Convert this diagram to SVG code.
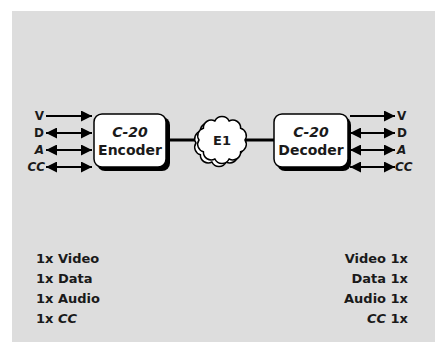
<svg xmlns="http://www.w3.org/2000/svg" width="435" height="342" viewBox="0 0 435 342">
<style>
.lbl{font-family:"DejaVu Sans",sans-serif;font-weight:bold;fill:#1a1a1a}
.box{fill:#fff;stroke:#000;stroke-width:1.5}
.sh{fill:#000}
.ar{stroke:#000;stroke-width:2;fill:none}
.link{stroke:#000;stroke-width:3;fill:none}
</style>
<defs>
<marker id="ah" viewBox="0 0 10 10" refX="10" refY="5" markerWidth="11" markerHeight="11" markerUnits="userSpaceOnUse" orient="auto-start-reverse">
<path d="M0,0 L10,5 L0,10 Z" fill="#000"/>
</marker>
</defs>
<rect x="12" y="11" width="423" height="331" fill="#dddddd"/>
<g id="connectors">
<line class="link" x1="166" y1="140" x2="200" y2="140"/>
<line class="link" x1="244" y1="140" x2="274" y2="140"/>
<line class="ar" x1="46" y1="116" x2="92" y2="116" marker-end="url(#ah)"/>
<line class="ar" x1="46" y1="133" x2="92" y2="133" marker-start="url(#ah)" marker-end="url(#ah)"/>
<line class="ar" x1="46" y1="150" x2="92" y2="150" marker-start="url(#ah)" marker-end="url(#ah)"/>
<line class="ar" x1="46" y1="167" x2="92" y2="167" marker-start="url(#ah)" marker-end="url(#ah)"/>
<line class="ar" x1="350" y1="116" x2="395" y2="116" marker-end="url(#ah)"/>
<line class="ar" x1="350" y1="133" x2="395" y2="133" marker-start="url(#ah)" marker-end="url(#ah)"/>
<line class="ar" x1="350" y1="150" x2="395" y2="150" marker-start="url(#ah)" marker-end="url(#ah)"/>
<line class="ar" x1="350" y1="167" x2="395" y2="167" marker-start="url(#ah)" marker-end="url(#ah)"/>
</g>
<g id="encoder">
<rect class="sh" x="97" y="117" width="73" height="54" rx="8"/>
<rect class="box" x="94" y="114" width="72" height="53" rx="8"/>
<text class="lbl" x="130" y="137" font-size="14" text-anchor="middle" font-style="italic">C-20</text>
<text class="lbl" x="130" y="155" font-size="14" text-anchor="middle">Encoder</text>
</g>
<g id="decoder">
<rect class="sh" x="277" y="117" width="74" height="54" rx="8"/>
<rect class="box" x="274" y="114" width="74" height="53" rx="8"/>
<text class="lbl" x="311" y="137" font-size="14" text-anchor="middle" font-style="italic">C-20</text>
<text class="lbl" x="311" y="155" font-size="14" text-anchor="middle">Decoder</text>
</g>
<g id="e1">
<path class="box" transform="translate(-3,3)" d="M245,140 A7.8,7.8 0 0 1 240.6,151.8 A7.8,7.8 0 0 1 229.1,159 A7.8,7.8 0 0 1 214.9,159 A7.8,7.8 0 0 1 203.4,151.8 A7.8,7.8 0 0 1 199,140 A7.8,7.8 0 0 1 203.4,128.2 A7.8,7.8 0 0 1 214.9,121 A7.8,7.8 0 0 1 229.1,121 A7.8,7.8 0 0 1 240.6,128.2 A7.8,7.8 0 0 1 245,140 Z"/>
<path class="box" d="M245,140 A7.8,7.8 0 0 1 240.6,151.8 A7.8,7.8 0 0 1 229.1,159 A7.8,7.8 0 0 1 214.9,159 A7.8,7.8 0 0 1 203.4,151.8 A7.8,7.8 0 0 1 199,140 A7.8,7.8 0 0 1 203.4,128.2 A7.8,7.8 0 0 1 214.9,121 A7.8,7.8 0 0 1 229.1,121 A7.8,7.8 0 0 1 240.6,128.2 A7.8,7.8 0 0 1 245,140 Z"/>
<text class="lbl" x="222" y="145" font-size="13" text-anchor="middle">E1</text>
</g>
<g id="in-labels" font-size="12" text-anchor="end">
<text class="lbl" x="44" y="120">V</text>
<text class="lbl" x="44" y="137">D</text>
<text class="lbl" x="44" y="154" font-style="italic">A</text>
<text class="lbl" x="45" y="171" font-style="italic">CC</text>
</g>
<g id="out-labels" font-size="12">
<text class="lbl" x="397" y="120">V</text>
<text class="lbl" x="397" y="137">D</text>
<text class="lbl" x="397" y="154" font-style="italic">A</text>
<text class="lbl" x="395" y="171" font-style="italic">CC</text>
</g>
<g id="left-list" font-size="13">
<text class="lbl" x="36" y="263">1x Video</text>
<text class="lbl" x="36" y="283">1x Data</text>
<text class="lbl" x="36" y="303">1x Audio</text>
<text class="lbl" x="36" y="323">1x <tspan font-style="italic">CC</tspan></text>
</g>
<g id="right-list" font-size="13" text-anchor="end">
<text class="lbl" x="408" y="263">Video 1x</text>
<text class="lbl" x="408" y="283">Data 1x</text>
<text class="lbl" x="408" y="303">Audio 1x</text>
<text class="lbl" x="408" y="323"><tspan font-style="italic">CC</tspan> 1x</text>
</g>
</svg>
